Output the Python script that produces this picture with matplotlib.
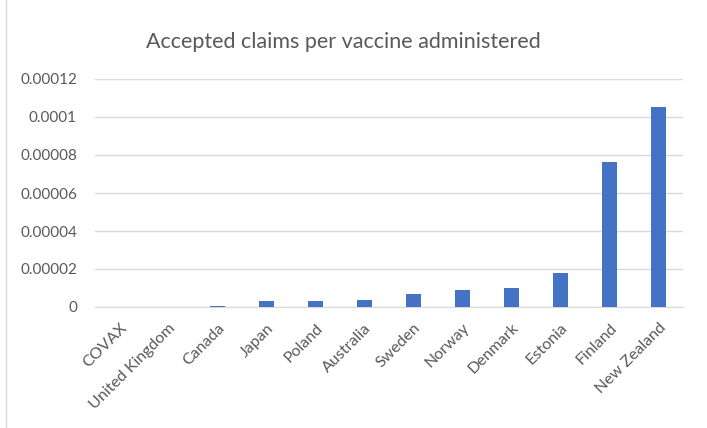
import matplotlib.pyplot as plt
import numpy as np

countries = ["COVAX", "United Kingdom", "Canada", "Japan", "Poland", "Australia",
             "Sweden", "Norway", "Denmark", "Estonia", "Finland", "New Zealand"]
claims_per_dose = [0.0, 0.0, 0.0000007, 0.0000029, 0.0000031, 0.0000038,
                   0.0000068, 0.0000087, 0.0000100, 0.0000177, 0.0000763, 0.0001055]
y_ticks = [0, 0.00002, 0.00004, 0.00006, 0.00008, 0.0001, 0.00012]
y_tick_labels = ["0", "0.00002", "0.00004", "0.00006", "0.00008", "0.0001", "0.00012"]

plt.rcParams["font.family"] = ["Lato", "DejaVu Sans"]

fig = plt.figure(figsize=(7.07, 4.28), dpi=100)
ax = fig.add_axes([95 / 707, 1 - 307 / 428, 588 / 707, 228 / 428])

x = np.arange(len(countries))
ax.bar(x, claims_per_dose, width=0.32, color="#4472C4", zorder=3)

ax.set_xlim(-0.5, len(countries) - 0.5)
ax.set_ylim(0, 0.00012)
ax.set_yticks(y_ticks)
ax.set_yticklabels(y_tick_labels)
ax.set_xticks(x)
ax.set_xticklabels(countries, rotation=45, ha="right", rotation_mode="anchor")

ax.grid(axis="y", color="#D9D9D9", linewidth=1, zorder=0)
for side in ["top", "right", "left"]:
    ax.spines[side].set_visible(False)
ax.spines["bottom"].set_color("#D9D9D9")
ax.tick_params(axis="both", length=0, colors="#595959")
ax.tick_params(axis="y", labelsize=11, pad=13)
ax.tick_params(axis="x", labelsize=11.5, pad=10)

fig.text(343 / 707, 1 - 42 / 428, "Accepted claims per vaccine administered",
         ha="center", va="center", fontsize=15.5, color="#595959")

# thin chart frame on the left
fig.add_artist(plt.Line2D([6 / 707, 6 / 707], [0, 1], color="#D9D9D9", linewidth=1))

fig.savefig("out.png", dpi=100)
